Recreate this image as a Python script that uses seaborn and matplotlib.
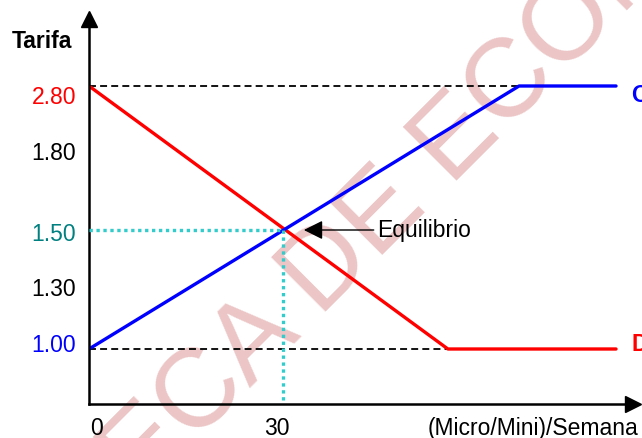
import numpy as np
import pandas as pd
import matplotlib
matplotlib.use('Agg')
import matplotlib.pyplot as plt
import seaborn as sns

# valores
price_ticks = [2.80, 1.80, 1.50, 1.30, 1.00]
price_labels = ['2.80', '1.80', '1.50', '1.30', '1.00']
price_colors = ['#ff0000', 'black', '#008080', 'black', '#0000ff']
qty_ticks = [0, 30]
qty_labels = ['0', '30']
demand_q = [0, 55.5, 81.5]
demand_p = [2.80, 1.00, 1.00]
supply_q = [0, 66.5, 81.5]
supply_p = [1.00, 2.80, 2.80]
eq_q, eq_p = 30, 1.50

# eje vertical esquematico (no lineal): precio -> altura en pixeles
Y_KNOTS = [0.0, 1.00, 1.30, 1.50, 1.80, 2.80, 5.00]
Y_PIX = [-145, 55, 115, 174, 251.5, 318, 464]
# desplazamiento vertical de cada etiqueta (pixeles)
LABEL_DY = [-10, 0, -3.5, 0, 4.5]


def fwd(v):
    return np.interp(v, Y_KNOTS, Y_PIX)


def inv(p):
    return np.interp(p, Y_PIX, Y_KNOTS)


sns.set_theme(style='white')
plt.rcParams['font.family'] = ['Liberation Sans', 'DejaVu Sans']
plt.rcParams['text.color'] = 'black'
plt.rcParams['lines.scale_dashes'] = False
FS = 16.5

df = pd.concat([
    pd.DataFrame({'q': demand_q, 'p': demand_p, 'curva': 'D'}),
    pd.DataFrame({'q': supply_q, 'p': supply_p, 'curva': 'O'}),
])

fig = plt.figure(figsize=(6.42, 4.39), dpi=100)
ax = fig.add_axes([89 / 642, 34 / 439, 543.5 / 642, 385 / 439])
ax.patch.set_alpha(0)

ax.set_yscale('function', functions=(fwd, inv))
ax.set_xlim(0, 543.5 / ((283 - 89) / 30))
ax.set_ylim(inv(0), inv(385))

# marca de agua
ax.text(359 / 642, 1 - 279 / 439, 'BIBLIOTECA DE ECONOMIA', transform=fig.transFigure,
        rotation=45, rotation_mode='anchor', ha='center', va='baseline',
        fontsize=80, color='#ecc6c6', zorder=0, clip_on=False)

# lineas guia
ax.plot([0, supply_q[1]], [2.80, 2.80], color='black', lw=1.3, dashes=(5, 3), zorder=1)
ax.plot([0, demand_q[1]], [1.00, 1.00], color='black', lw=1.3, dashes=(5, 3), zorder=1)
ax.plot([0, eq_q], [eq_p, eq_p], color='#33cccc', lw=2.4, dashes=(2.4, 2.6),
        dash_capstyle='butt', zorder=3)
ax.plot([eq_q, eq_q], [eq_p, inv(0)], color='#33cccc', lw=2.4, dashes=(2.4, 2.6),
        dash_capstyle='butt', zorder=3)

sns.lineplot(data=df, x='q', y='p', hue='curva', palette={'D': '#ff0000', 'O': '#0000ff'},
             sort=False, estimator=None, lw=2.4, legend=False, ax=ax, zorder=2)

# ejes con flechas
sns.despine(ax=ax)
for side in ['left', 'bottom']:
    ax.spines[side].set_color('black')
    ax.spines[side].set_linewidth(1.8)
ax.plot(1, 0, '>', color='black', ms=11, transform=ax.transAxes, clip_on=False)
ax.plot(0, 1, '^', color='black', ms=11, transform=ax.transAxes, clip_on=False)
ax.set_xticks([])
ax.set_yticks([])
ax.set_xlabel('')
ax.set_ylabel('')

for v, lab, c, dy in zip(price_ticks, price_labels, price_colors, LABEL_DY):
    ax.annotate(lab, xy=(0, v), xycoords=('axes fraction', 'data'),
                xytext=(-13, dy), textcoords='offset pixels',
                ha='right', va='center', color=c, fontsize=FS)

for v, lab, dx in zip(qty_ticks, qty_labels, [8, -6]):
    ax.annotate(lab, xy=(v, 0), xycoords=('data', 'axes fraction'),
                xytext=(dx, -12), textcoords='offset pixels',
                ha='center', va='top', fontsize=FS)

ax.annotate('(Micro/Mini)/Semana', xy=(1, 0), xycoords='axes fraction',
            xytext=(5.5, -12), textcoords='offset pixels',
            ha='right', va='top', fontsize=FS)
fig.text(12 / 642, 1 - 41 / 439, 'Tarifa', fontweight='bold', va='center', fontsize=FS)

ax.annotate('O', xy=(supply_q[-1], supply_p[-1]), xytext=(15, -9), textcoords='offset pixels',
            ha='left', va='center', color='#0000ff', fontweight='bold', fontsize=FS,
            annotation_clip=False)
ax.annotate('D', xy=(demand_q[-1], demand_p[-1]), xytext=(15, 5), textcoords='offset pixels',
            ha='left', va='center', color='#ff0000', fontweight='bold', fontsize=FS,
            annotation_clip=False)

ax.annotate('Equilibrio', xy=(eq_q, eq_p), xytext=(94, 0), textcoords='offset pixels',
            ha='left', va='center', fontsize=FS,
            arrowprops=dict(arrowstyle='-|>,head_length=0.4,head_width=0.2', color='black',
                            lw=1.0, shrinkA=0, shrinkB=15, mutation_scale=29,
                            relpos=(0, 0.5)))

fig.savefig('out.png', dpi=100)
